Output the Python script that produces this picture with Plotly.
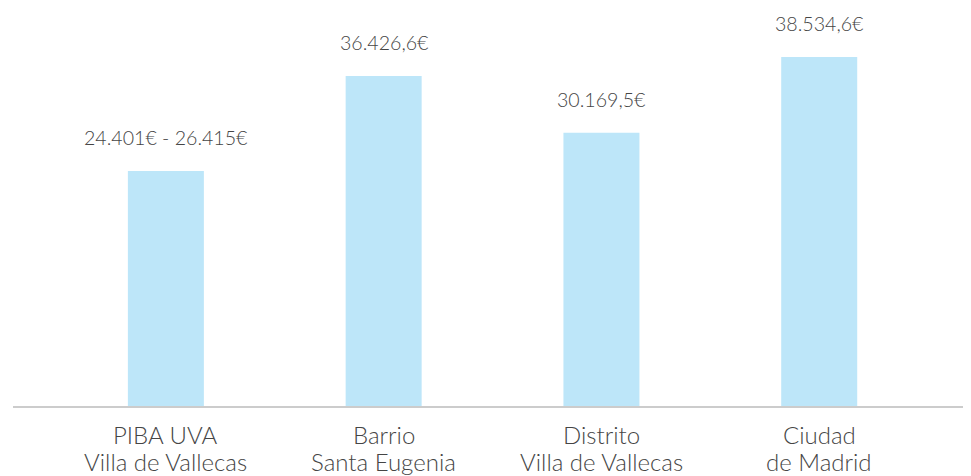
import plotly.graph_objects as go

categories = ["PIBA UVA Villa de Vallecas", "Barrio Santa Eugenia",
              "Distrito Villa de Vallecas", "Ciudad de Madrid"]
tick_line1 = ["PIBA UVA", "Barrio", "Distrito", "Ciudad"]
tick_line2 = ["Villa de Vallecas", "Santa Eugenia", "Villa de Vallecas", "de Madrid"]
values = [25940, 36426.6, 30169.5, 38534.6]
labels = ["24.401€ - 26.415€", "36.426,6€", "30.169,5€", "38.534,6€"]

FONT = "Lato Light, Lato"
TXT = "#454545"

fig = go.Figure()
fig.add_trace(go.Bar(x=categories, y=values, width=0.349,
                     marker=dict(color="#bde6f9", line=dict(width=0)),
                     hoverinfo="skip"))
for c, v, t in zip(categories, values, labels):
    fig.add_annotation(x=c, y=v, text=t, showarrow=False, yanchor="bottom",
                       yshift=20, font=dict(size=19.6, color=TXT, family=FONT, weight=300))
for c, l1, l2 in zip(categories, tick_line1, tick_line2):
    fig.add_annotation(x=c, y=0, yref="paper", text=l1, showarrow=False,
                       yanchor="top", yshift=-12,
                       font=dict(size=24, color=TXT, family=FONT, weight=300))
    fig.add_annotation(x=c, y=0, yref="paper", text=l2, showarrow=False,
                       yanchor="top", yshift=-39,
                       font=dict(size=24, color=TXT, family=FONT, weight=300))

fig.update_layout(
    width=971, height=476,
    margin=dict(l=5, r=8, t=0, b=78, autoexpand=False),
    paper_bgcolor="white", plot_bgcolor="white",
    showlegend=False,
    font=dict(family=FONT, color=TXT, weight=300),
    xaxis=dict(range=[-0.702, 3.697], showgrid=False, zeroline=False,
               showline=True, linecolor="#cccccc", linewidth=1.5,
               ticks="", showticklabels=False),
    yaxis=dict(range=[0, 398 * 110.4], visible=False, showgrid=False, zeroline=False),
)
fig.write_html("out.html")
